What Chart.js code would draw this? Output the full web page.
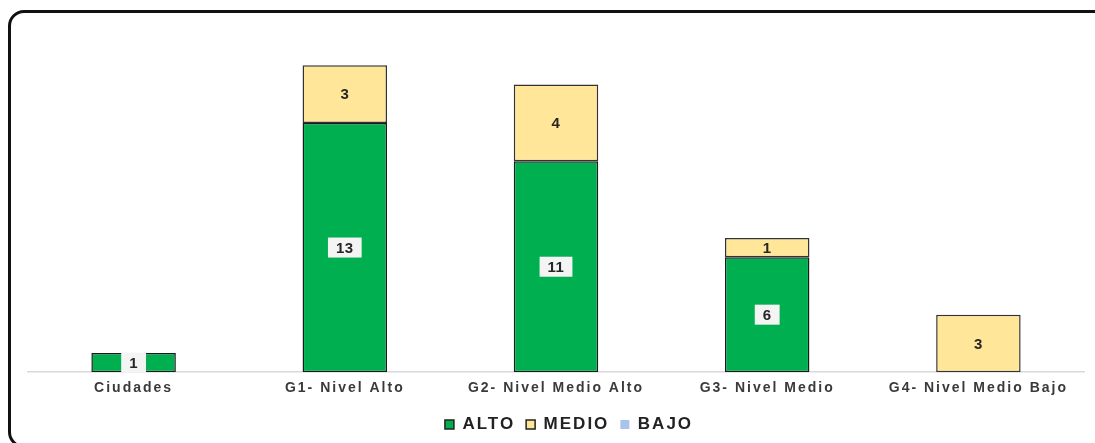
<!DOCTYPE html>
<html lang="es">
<head>
    <meta charset="UTF-8">
    <title>Niveles por grupo</title>
    <script src="https://cdn.jsdelivr.net/npm/chart.js"></script>
    <style>
        body { margin: 0; background: #fff; overflow: hidden; }
        #frame {
            position: absolute; left: 8px; top: 10px;
            width: 1100px; height: 432px;
            border: 3px solid #111; border-radius: 16px;
        }
        #chart { position: absolute; left: 0; top: 0; }
    </style>
</head>
<body>
    <div id="frame"></div>
    <canvas id="chart" width="1095" height="443"></canvas>

    <script>
        const categories = ['Ciudades', 'G1- Nivel Alto', 'G2- Nivel Medio Alto', 'G3- Nivel Medio', 'G4- Nivel Medio Bajo'];
        const alto = [1, 13, 11, 6, 0];
        const medio = [0, 3, 4, 1, 3];
        const bajo = [0, 0, 0, 0, 0];

        // wider text spacing like the original picture
        const spacing = {
            id: 'spacing',
            beforeDraw(chart) { chart.ctx.letterSpacing = '2px'; }
        };

        // number labels in the middle of each segment
        const segmentLabels = {
            id: 'segmentLabels',
            afterDatasetsDraw(chart) {
                const ctx = chart.ctx;
                ctx.save();
                ctx.letterSpacing = '0.5px';
                ctx.font = 'bold 15px "Liberation Sans", Arial, sans-serif';
                ctx.textAlign = 'center';
                ctx.textBaseline = 'middle';
                chart.data.datasets.forEach((ds, i) => {
                    const meta = chart.getDatasetMeta(i);
                    meta.data.forEach((bar, j) => {
                        const v = ds.data[j];
                        if (!v) return;
                        const y = (bar.y + bar.base) / 2;
                        const txt = String(v);
                        if (ds.label === 'ALTO') {
                            const w = ctx.measureText(txt).width + 16;
                            ctx.fillStyle = '#f4f4f4';
                            ctx.fillRect(bar.x - w / 2, y - 10, w, 20);
                        }
                        ctx.fillStyle = '#262626';
                        ctx.fillText(txt, bar.x, y + 1);
                    });
                });
                ctx.restore();
            }
        };

        new Chart(document.getElementById('chart'), {
            type: 'bar',
            data: {
                labels: categories,
                datasets: [
                    { label: 'ALTO', data: alto, backgroundColor: '#00B050', borderColor: '#1a1a1a', borderWidth: 1.5, borderSkipped: false },
                    { label: 'MEDIO', data: medio, backgroundColor: '#FFE699', borderColor: '#333333', borderWidth: 1.5, borderSkipped: false },
                    { label: 'BAJO', data: bajo, backgroundColor: '#A9C4EB', borderColor: '#A9C4EB', borderWidth: 0 }
                ]
            },
            options: {
                responsive: false,
                animation: false,
                devicePixelRatio: 1,
                categoryPercentage: 1.0,
                barPercentage: 0.4,
                layout: { padding: { left: 28, right: 11, top: 27, bottom: 0 } },
                scales: {
                    x: {
                        stacked: true,
                        grid: { display: false, drawTicks: false },
                        border: { display: true, color: '#d9d9d9', width: 1.5 },
                        ticks: {
                            color: '#3a3a3a',
                            padding: 8,
                            maxRotation: 0,
                            autoSkip: false,
                            font: { family: '"Liberation Sans", Arial, sans-serif', size: 14, weight: 'bold' }
                        }
                    },
                    y: {
                        stacked: true,
                        min: 0, max: 18,
                        display: false
                    }
                },
                plugins: {
                    legend: {
                        position: 'bottom',
                        labels: {
                            boxWidth: 9, boxHeight: 9,
                            padding: 11,
                            color: '#222',
                            font: { family: '"Liberation Sans", Arial, sans-serif', size: 17, weight: 'bold' },
                            generateLabels(chart) {
                                return chart.data.datasets.map((ds, i) => ({
                                    text: ds.label,
                                    fillStyle: ds.backgroundColor,
                                    strokeStyle: i < 2 ? '#222' : ds.backgroundColor,
                                    lineWidth: i < 2 ? 1.5 : 0,
                                    datasetIndex: i,
                                    fontColor: '#222'
                                }));
                            }
                        }
                    },
                    tooltip: { enabled: false }
                }
            },
            plugins: [spacing, segmentLabels]
        });
    </script>
</body>
</html>
